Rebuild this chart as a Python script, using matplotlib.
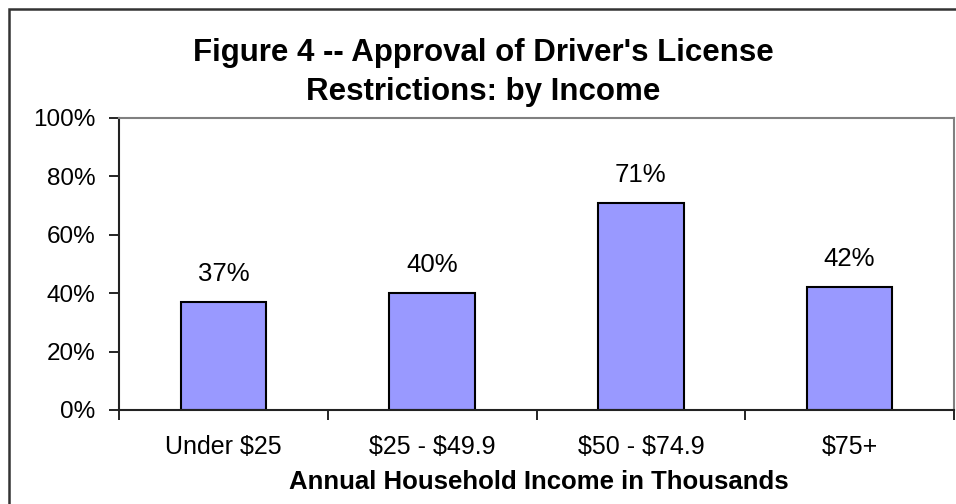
from matplotlib import pyplot as plt
from matplotlib.patches import Rectangle
import numpy as np

plt.rcParams['font.family'] = ['Liberation Sans', 'DejaVu Sans']
plt.rcParams['text.parse_math'] = False

categories = ['Under $25', '$25 - $49.9', '$50 - $74.9', '$75+']
approval = [37, 40, 71, 42]
yticks = [0, 20, 40, 60, 80, 100]

fig = plt.figure(figsize=(9.56, 5.04), dpi=100)
ax = fig.add_axes([119/956, 94/504, (954-119)/956, (410-118)/504])

# outer chart frame
fig.patches.append(Rectangle((8.5/956, -0.1), 1.1, (504-8.5)/504 + 0.1,
                             transform=fig.transFigure, fill=False,
                             edgecolor='#333333', linewidth=1.8))

x = np.arange(len(categories))
ax.bar(x, approval, width=0.41, color='#9999FF', edgecolor='black', linewidth=1.5)
for xi, v in zip(x, approval):
    ax.text(xi, v + 7.2, f'{v}%', ha='center', va='baseline', fontsize=18.5)

ax.set_xlim(-0.5, len(categories) - 0.5)
ax.set_ylim(0, 100)
ax.set_yticks(yticks)
ax.set_yticklabels([f'{t}%' for t in yticks], fontsize=17.5)
ax.set_xticks(x)
ax.set_xticklabels(categories, fontsize=18)
ax.tick_params(axis='x', length=0, pad=18)
ax.set_xticks(np.arange(len(categories) + 1) - 0.5, minor=True)
ax.tick_params(axis='x', which='minor', length=7, width=1.2, direction='out')
ax.tick_params(axis='y', length=7, width=1.2, direction='out', pad=10)

for s in ['top', 'right']:
    ax.spines[s].set_color('#808080')
    ax.spines[s].set_linewidth(1.5)
for s in ['left', 'bottom']:
    ax.spines[s].set_color('#222222')
    ax.spines[s].set_linewidth(1.5)

fig.text(539/956, (504-489)/504, 'Annual Household Income in Thousands',
         ha='center', va='baseline', fontsize=18.5, fontweight='bold')
fig.text(483/956, (504-61)/504, "Figure 4 -- Approval of Driver's License",
         ha='center', va='baseline', fontsize=22.5, fontweight='bold')
fig.text(483/956, (504-100)/504, "Restrictions: by Income",
         ha='center', va='baseline', fontsize=22.5, fontweight='bold')

fig.savefig('out.png', dpi=100)
